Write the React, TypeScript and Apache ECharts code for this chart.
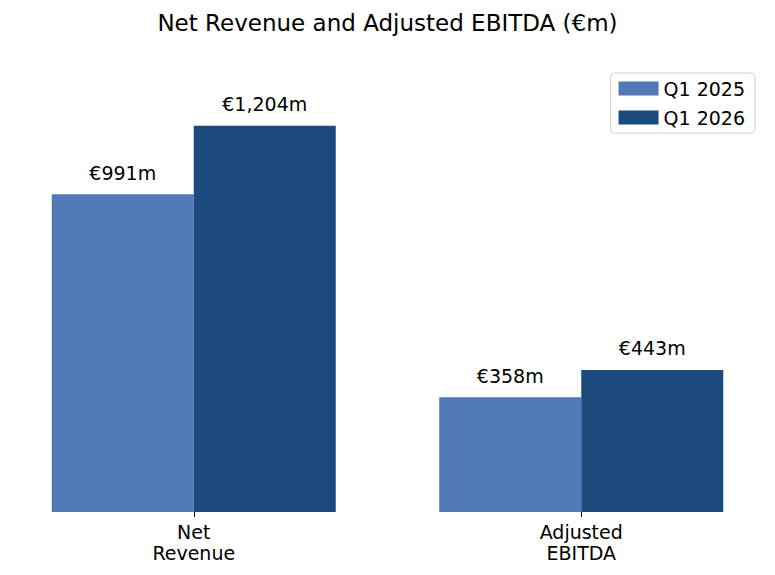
import { useEffect, useRef } from 'react';
import * as echarts from 'echarts';

const categories = ['Net\nRevenue', 'Adjusted\nEBITDA'];
const q1_2025 = [991, 358];
const q1_2026 = [1204, 443];
const seriesNames = ['Q1 2025', 'Q1 2026'];

const fmt = (v: number) => `€${v.toLocaleString('en-US')}m`;

export default function App() {
  const ref = useRef<HTMLDivElement>(null);

  useEffect(() => {
    if (!ref.current) return;
    const chart = echarts.init(ref.current, undefined, { renderer: 'svg' });
    const font = 'DejaVu Sans';
    const label = {
      show: true,
      position: 'top' as const,
      distance: 12,
      fontSize: 19,
      fontFamily: font,
      color: '#000',
      formatter: ({ value }: any) => fmt(value),
    };
    chart.setOption({
      animation: false,
      title: {
        text: 'Net Revenue and Adjusted EBITDA (€m)',
        left: 'center',
        top: 6,
        textStyle: { fontSize: 23, fontWeight: 'normal', fontFamily: font, color: '#000' },
      },
      legend: {
        data: seriesNames,
        orient: 'vertical',
        right: 20,
        top: 73,
        icon: 'rect',
        itemWidth: 40,
        itemHeight: 14,
        itemGap: 10,
        padding: [6, 10, 6, 8],
        borderColor: '#d0d0d0',
        borderWidth: 1,
        borderRadius: 4,
        backgroundColor: '#fff',
        textStyle: { fontSize: 19, fontFamily: font, color: '#000' },
      },
      grid: { left: -15.5, width: 806, top: 63, bottom: 575 - 512 },
      xAxis: {
        type: 'category',
        data: categories,
        axisLine: { show: false },
        axisTick: {
          show: true,
          alignWithLabel: true,
          length: 5,
          lineStyle: { color: '#000' },
        },
        axisLabel: {
          interval: 0,
          fontSize: 19,
          fontFamily: font,
          color: '#000',
          lineHeight: 21,
          margin: 9,
        },
      },
      yAxis: { type: 'value', min: 0, max: 1400, show: false, splitLine: { show: false } },
      series: [
        {
          name: seriesNames[0],
          type: 'bar',
          data: q1_2025,
          barWidth: 142,
          barGap: '0%',
          itemStyle: { color: '#5079b5' },
          label,
        },
        {
          name: seriesNames[1],
          type: 'bar',
          data: q1_2026,
          barWidth: 142,
          barGap: '0%',
          itemStyle: { color: '#1b4b7e' },
          label,
        },
      ],
    });
    return () => chart.dispose();
  }, []);

  return <div ref={ref} style={{ width: 775, height: 575, margin: -8 }} />;
}
